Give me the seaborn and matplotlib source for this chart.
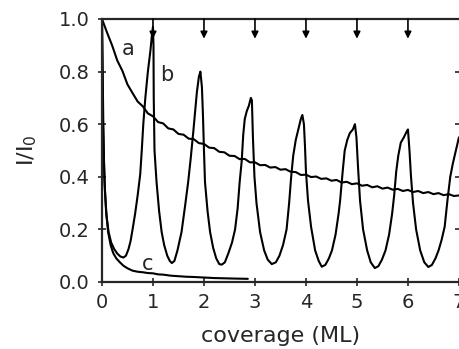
import numpy as np
import pandas as pd
import matplotlib
matplotlib.use("Agg")
import matplotlib.pyplot as plt
import seaborn as sns

# curve a: slow decay (sampled every 0.1 ML)
coverage_a = np.round(np.arange(71) * 0.1, 1)
intensity_a = [1.000, 0.948, 0.899, 0.842, 0.803, 0.751, 0.718, 0.686, 0.668, 0.641,
               0.630, 0.608, 0.603, 0.584, 0.580, 0.563, 0.560, 0.545, 0.543, 0.528,
               0.525, 0.511, 0.509, 0.495, 0.493, 0.480, 0.479, 0.467, 0.468, 0.455,
               0.455, 0.444, 0.445, 0.435, 0.437, 0.427, 0.429, 0.419, 0.418, 0.407,
               0.408, 0.399, 0.401, 0.392, 0.394, 0.385, 0.388, 0.378, 0.381, 0.372,
               0.375, 0.366, 0.369, 0.360, 0.364, 0.355, 0.359, 0.351, 0.354, 0.346,
               0.350, 0.342, 0.346, 0.338, 0.342, 0.334, 0.338, 0.330, 0.334, 0.327,
               0.329]

# curve b: oscillations
coverage_b = [0.00, 0.01, 0.025, 0.04, 0.06, 0.09, 0.13, 0.18, 0.24, 0.30, 0.36, 0.42,
              0.47, 0.52, 0.56, 0.60, 0.65, 0.70, 0.75, 0.78, 0.81, 0.85, 0.90, 0.95, 0.98, 1.00,
              1.01, 1.015, 1.03, 1.07, 1.12, 1.17, 1.22, 1.28, 1.33, 1.37, 1.42, 1.48, 1.56,
              1.63, 1.69, 1.74, 1.79, 1.82, 1.86, 1.90, 1.93,
              1.96, 1.98, 2.00, 2.02, 2.07, 2.12, 2.18, 2.24, 2.30, 2.35, 2.41, 2.48, 2.55,
              2.61, 2.66, 2.70, 2.74, 2.77, 2.80, 2.84, 2.88, 2.92, 2.94,
              2.96, 2.99, 3.03, 3.10, 3.18, 3.25, 3.33, 3.41, 3.48, 3.55, 3.62, 3.67, 3.71,
              3.75, 3.80, 3.85, 3.90, 3.93,
              3.96, 3.98, 4.00, 4.04, 4.10, 4.18, 4.25, 4.31, 4.38, 4.45, 4.51, 4.58, 4.64,
              4.67, 4.72, 4.76, 4.81, 4.86, 4.92, 4.96,
              4.99, 5.02, 5.06, 5.12, 5.20, 5.27, 5.35, 5.42, 5.49, 5.56, 5.63, 5.69, 5.73,
              5.77, 5.81, 5.86, 5.92, 5.97, 6.00,
              6.03, 6.06, 6.10, 6.16, 6.24, 6.32, 6.40, 6.47, 6.54, 6.60, 6.66, 6.72, 6.78,
              6.83, 6.88, 6.94, 7.00]
intensity_b = [1.00, 0.85, 0.62, 0.45, 0.34, 0.25, 0.19, 0.15, 0.125, 0.108, 0.097, 0.093,
               0.10, 0.125, 0.155, 0.20, 0.26, 0.33, 0.41, 0.50, 0.60, 0.70, 0.80, 0.88, 0.94, 0.97,
               0.90, 0.70, 0.50, 0.38, 0.27, 0.19, 0.14, 0.10, 0.08, 0.072, 0.08, 0.12, 0.19,
               0.29, 0.38, 0.47, 0.57, 0.635, 0.72, 0.78, 0.80,
               0.74, 0.635, 0.50, 0.38, 0.27, 0.19, 0.13, 0.09, 0.068, 0.066, 0.075, 0.11, 0.15,
               0.20, 0.28, 0.38, 0.46, 0.56, 0.62, 0.65, 0.67, 0.70, 0.69,
               0.55, 0.40, 0.30, 0.19, 0.12, 0.085, 0.068, 0.075, 0.10, 0.14, 0.20, 0.30, 0.40,
               0.48, 0.54, 0.58, 0.62, 0.635,
               0.60, 0.52, 0.42, 0.31, 0.21, 0.12, 0.08, 0.058, 0.065, 0.09, 0.12, 0.18, 0.26,
               0.31, 0.42, 0.50, 0.54, 0.566, 0.58, 0.60,
               0.55, 0.44, 0.31, 0.20, 0.12, 0.075, 0.053, 0.06, 0.085, 0.12, 0.18, 0.26, 0.33,
               0.42, 0.48, 0.53, 0.55, 0.57, 0.58,
               0.50, 0.40, 0.30, 0.20, 0.12, 0.075, 0.057, 0.065, 0.09, 0.12, 0.16, 0.21, 0.32,
               0.40, 0.45, 0.50, 0.55]

# curve c: fast decay
coverage_c = [0.00, 0.02, 0.05, 0.08, 0.12, 0.17, 0.22, 0.28, 0.35, 0.42, 0.50, 0.60, 0.70,
              0.80, 0.90, 1.00, 1.10, 1.20, 1.35, 1.50, 1.65, 1.80, 2.00, 2.20, 2.40, 2.60, 2.86]
intensity_c = [1.00, 0.60, 0.38, 0.27, 0.19, 0.14, 0.11, 0.09, 0.075, 0.062, 0.052, 0.043, 0.039,
               0.037, 0.034, 0.033, 0.029, 0.028, 0.024, 0.022, 0.020, 0.019, 0.017, 0.015,
               0.014, 0.013, 0.012]

arrow_positions = [1, 2, 3, 4, 5, 6]
x_ticks = [0, 1, 2, 3, 4, 5, 6, 7]
y_ticks = [0.0, 0.2, 0.4, 0.6, 0.8, 1.0]
y_ticklabels = ["0.0", "0.2", "0.4", "0.6", "0.8", "1.0"]

curves = {
    "a": (coverage_a, intensity_a),
    "b": (coverage_b, intensity_b),
    "c": (coverage_c, intensity_c),
}

sns.set_style("ticks")
plt.rcParams["font.family"] = ["DejaVu Sans"]

fig = plt.figure(figsize=(4.6, 3.49), dpi=100)
ax = fig.add_axes([0.2217, 0.192, 0.776, 0.7536])

for name, (x, y) in curves.items():
    df = pd.DataFrame({"coverage": x, "intensity": y})
    sns.lineplot(data=df, x="coverage", y="intensity", ax=ax, color="black",
                 linewidth=1.5, estimator=None)

# arrows marking the monolayers
for xp in arrow_positions:
    ax.annotate("", xy=(xp, 0.925), xytext=(xp, 1.0),
                arrowprops=dict(arrowstyle="-|>", color="black", lw=1.2,
                                mutation_scale=10, shrinkA=0, shrinkB=0))

ax.text(0.51, 0.886, "a", fontsize=15, ha="center", va="center")
ax.text(1.27, 0.787, "b", fontsize=15, ha="center", va="center")
ax.text(0.90, 0.068, "c", fontsize=15, ha="center", va="center")

ax.set_xlim(0, 7)
ax.set_ylim(0, 1.0)
ax.set_xticks(x_ticks)
ax.set_yticks(y_ticks)
ax.set_yticklabels(y_ticklabels)
ax.tick_params(direction="inout", length=6, width=1.2, labelsize=14, right=True)
ax.tick_params(axis="x", pad=5)
ax.tick_params(axis="y", pad=6)

for side in ["left", "bottom", "top"]:
    ax.spines[side].set_linewidth(1.6)
ax.spines["right"].set_visible(False)

ax.set_xlabel("coverage (ML)", fontsize=16, labelpad=10)
ax.set_ylabel("I/I$_0$", fontsize=16, labelpad=14)

fig.savefig("out.png", dpi=100)
